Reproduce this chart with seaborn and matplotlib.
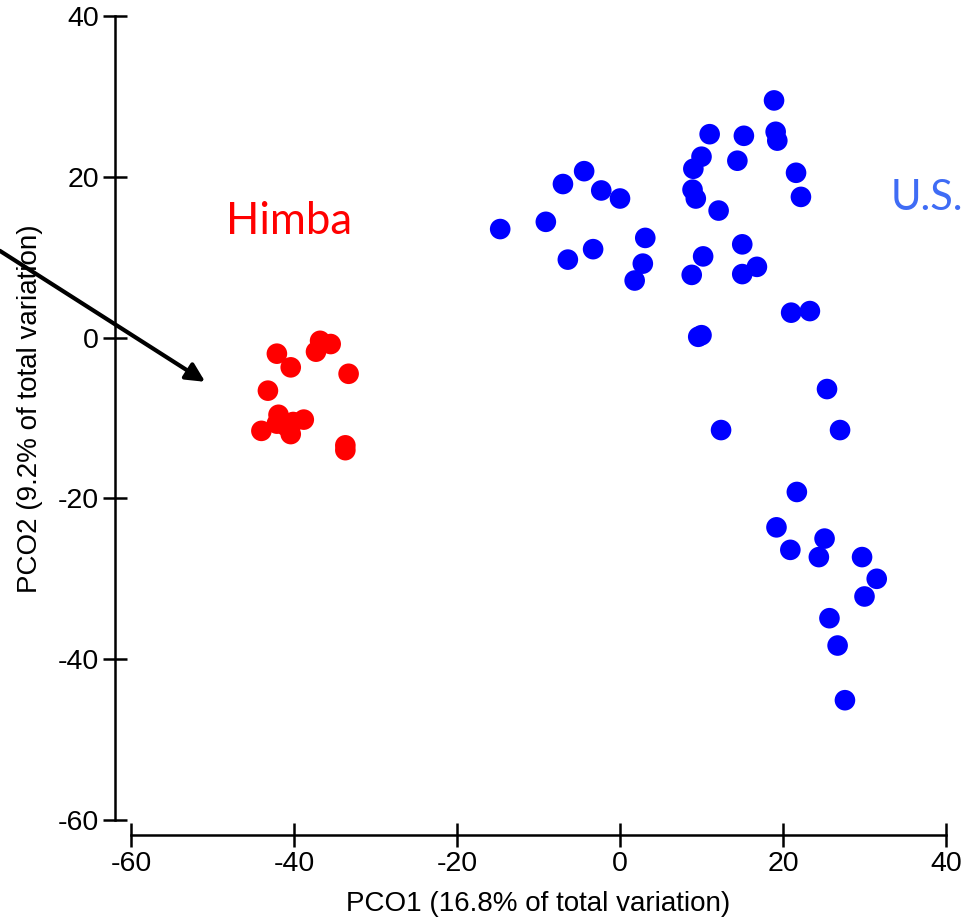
import matplotlib
matplotlib.use("Agg")
import matplotlib.pyplot as plt
import seaborn as sns
import pandas as pd

# --- data -------------------------------------------------------------
himba_x = [-42.1, -40.4, -36.8, -37.3, -35.5, -33.3, -43.2, -41.9, -42.1,
           -44.0, -40.4, -40.1, -38.8, -33.7, -33.7, -41.0]
himba_y = [-2.0, -3.7, -0.4, -1.75, -0.8, -4.5, -6.6, -9.6, -10.7,
           -11.6, -12.0, -10.5, -10.2, -13.4, -14.0, -11.0]

us_x = [18.9, 11.0, 15.2, 19.1, 19.3, 10.0, 14.4, 9.0, 21.6, 22.2,
        -4.4, -7.0, -2.3, 0.0, 8.9, 9.3, 12.1, -14.7, -9.1, 3.1,
        -3.3, -6.4, 2.8, 1.8, 10.2, 8.8, 15.0, 15.0, 16.8, 21.0,
        23.3, 9.6, 10.0, 12.4, 25.4, 27.0, 21.7, 19.2, 25.1, 20.9,
        24.4, 29.7, 31.5, 30.0, 25.7, 26.7, 27.6]
us_y = [29.5, 25.3, 25.1, 25.6, 24.5, 22.5, 22.0, 21.0, 20.5, 17.5,
        20.7, 19.1, 18.3, 17.3, 18.4, 17.3, 15.8, 13.5, 14.4, 12.4,
        11.0, 9.7, 9.2, 7.1, 10.1, 7.8, 11.6, 7.9, 8.8, 3.1,
        3.3, 0.1, 0.3, -11.5, -6.4, -11.5, -19.2, -23.6, -25.0, -26.4,
        -27.3, -27.3, -30.0, -32.2, -34.9, -38.3, -45.1]

groups = ["Himba", "U.S."]
group_colors = ["#FF0000", "#0000FF"]
label_colors = ["#FF0000", "#3F6CF5"]
label_pos_x = [-40.6, 37.6]
label_pos_y = [14.4, 17.4]

x_ticks = [-60, -40, -20, 0, 20, 40]
y_ticks = [-60, -40, -20, 0, 20, 40]
x_title = "PCO1 (16.8% of total variation)"
y_title = "PCO2 (9.2% of total variation)"

arrow_start = (-76.1, 10.8)
arrow_end = (-50.9, -5.5)

df = pd.DataFrame({
    "PCO1": himba_x + us_x,
    "PCO2": himba_y + us_y,
    "group": [groups[0]] * len(himba_x) + [groups[1]] * len(us_x),
})

# --- style ------------------------------------------------------------
sns.set_style("ticks")
plt.rcParams["font.family"] = ["Liberation Sans", "DejaVu Sans"]
plt.rcParams["axes.unicode_minus"] = False

fig = plt.figure(figsize=(9.69, 9.21), dpi=100)
ax = fig.add_axes([131 / 969, 1 - 820 / 921, 815 / 969, 804 / 921])

sns.scatterplot(data=df, x="PCO1", y="PCO2", hue="group",
                palette=dict(zip(groups, group_colors)),
                s=220, linewidth=0, legend=False, ax=ax, clip_on=False)

ax.set_xlim(-60, 40)
ax.set_ylim(-60, 40)
ax.set_xticks(x_ticks)
ax.set_yticks(y_ticks)

for s in ["top", "right"]:
    ax.spines[s].set_visible(False)
ax.spines["left"].set_position(("outward", 11.5))
ax.spines["bottom"].set_position(("outward", 10.8))
for s in ["left", "bottom"]:
    ax.spines[s].set_linewidth(1.8)
    ax.spines[s].set_color("black")

ax.tick_params(direction="inout", length=17, width=1.8, labelsize=20.5,
               colors="black", pad=3)

ax.set_xlabel(x_title, fontsize=20, color="black")
ax.set_ylabel(y_title, fontsize=20, color="black")
ax.xaxis.set_label_coords(0.5, -0.088)
ax.yaxis.set_label_coords(-0.108, 0.511)

for g, c, lx, ly, fs in zip(groups, label_colors, label_pos_x, label_pos_y,
                            [31.5, 30]):
    ax.text(lx, ly, g, color=c, fontsize=fs, family=["Lato", "DejaVu Sans"],
            ha="center", va="center")

ax.annotate("", xy=arrow_end, xytext=arrow_start, xycoords="data",
            textcoords="data", annotation_clip=False,
            arrowprops=dict(arrowstyle="-|>", lw=3, color="black",
                            mutation_scale=28, shrinkA=0, shrinkB=0))

fig.savefig("out.png", dpi=100)
